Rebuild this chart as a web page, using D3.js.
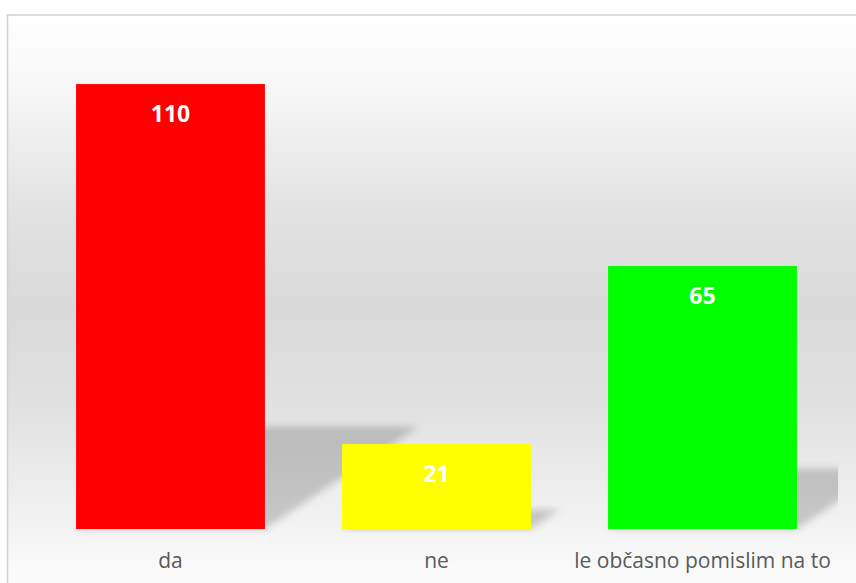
<!DOCTYPE html>
<html>
<head>
<meta charset="utf-8">
<script src="https://cdn.jsdelivr.net/npm/d3@7"></script>
<style>
html,body{margin:0;padding:0;background:#fff;}
svg{display:block;}
</style>
</head>
<body>
<script>
const categories = ["da", "ne", "le občasno pomislim na to"];
const values = [110, 21, 65];
const colors = ["#ff0000", "#ffff00", "#00ff00"];

const W = 856, H = 583;
const svg = d3.select("body").append("svg").attr("width", W).attr("height", H);
const defs = svg.append("defs");

const grad = defs.append("linearGradient").attr("id", "bg").attr("x1", 0).attr("y1", 0).attr("x2", 0).attr("y2", 1);
grad.append("stop").attr("offset", "0%").attr("stop-color", "#ffffff");
grad.append("stop").attr("offset", "12%").attr("stop-color", "#f7f7f7");
grad.append("stop").attr("offset", "32%").attr("stop-color", "#e3e3e3");
grad.append("stop").attr("offset", "50%").attr("stop-color", "#d9d9d9");
grad.append("stop").attr("offset", "68%").attr("stop-color", "#e2e2e2");
grad.append("stop").attr("offset", "100%").attr("stop-color", "#ffffff");

defs.append("filter").attr("id", "blur").attr("x", "-20%").attr("y", "-20%").attr("width", "140%").attr("height", "140%")
  .append("feGaussianBlur").attr("stdDeviation", 3.5);

defs.append("clipPath").attr("id", "plotclip").append("rect")
  .attr("x", 20).attr("y", 16).attr("width", 818).attr("height", 560);

// chart area background + border
svg.append("rect").attr("x", 7.5).attr("y", 15).attr("width", 870).attr("height", 590)
  .attr("fill", "url(#bg)").attr("stroke", "#d4d4d4").attr("stroke-width", 1.6);

const x = d3.scaleBand().domain(categories).range([37.5, 835.5]).paddingInner(0.29).paddingOuter(0.145);
const y = d3.scaleLinear().domain([0, 120]).range([529, 43.6]);

// perspective shadows
const k = 0.23, slope = 1.5;
svg.append("g").attr("clip-path", "url(#plotclip)")
  .selectAll("polygon").data(values).join("polygon")
  .attr("points", (d, i) => {
    const x0 = x(categories[i]), x1 = x0 + x.bandwidth();
    const base = y(0), h = base - y(d);
    const sh = h * k, s = sh * slope;
    return [[x0, base], [x1, base], [x1 + s, base - sh], [x0 + s, base - sh]].map(p => p.join(",")).join(" ");
  })
  .attr("fill", "#000").attr("fill-opacity", 0.18).attr("filter", "url(#blur)");

// bars
svg.append("g").selectAll("rect").data(values).join("rect")
  .attr("x", (d, i) => x(categories[i]))
  .attr("y", d => y(d))
  .attr("width", x.bandwidth())
  .attr("height", d => y(0) - y(d))
  .attr("fill", (d, i) => colors[i]);

// value labels
svg.append("g").selectAll("text").data(values).join("text")
  .attr("x", (d, i) => x(categories[i]) + x.bandwidth() / 2)
  .attr("y", d => y(d) + 37.5)
  .attr("text-anchor", "middle")
  .attr("font-family", "'Open Sans', sans-serif")
  .attr("font-weight", "bold")
  .attr("font-size", 23)
  .attr("fill", "#ffffff")
  .text(d => d);

// category axis labels
svg.append("g").selectAll("text").data(categories).join("text")
  .attr("x", d => x(d) + x.bandwidth() / 2)
  .attr("y", 568)
  .attr("text-anchor", "middle")
  .attr("font-family", "'Open Sans', sans-serif")
  .attr("font-size", 21)
  .attr("fill", "#595959")
  .text(d => d);
</script>
</body>
</html>
